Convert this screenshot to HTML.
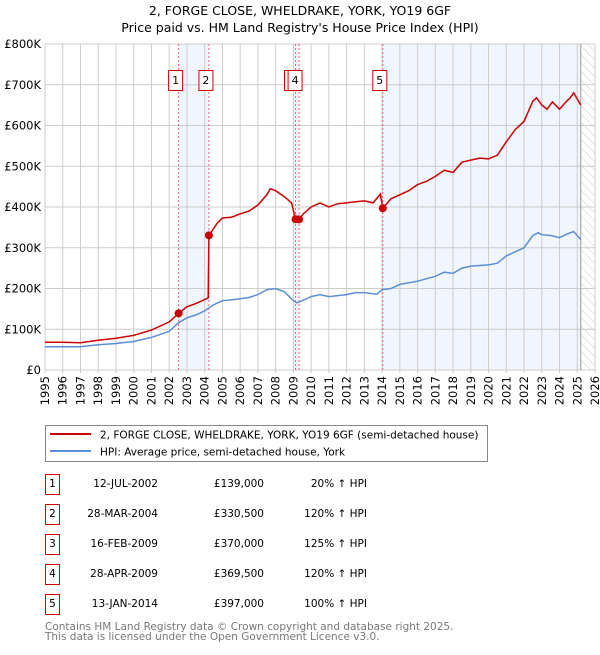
<!DOCTYPE html>
<html><head><meta charset="utf-8"><style>
body{margin:0;background:#fff;font-family:"Liberation Sans","DejaVu Sans",sans-serif;}
svg text{font-family:"DejaVu Sans","Liberation Sans",sans-serif;}
</style></head><body>
<svg id="chart" width="600" height="650" viewBox="0 0 600 650" xmlns="http://www.w3.org/2000/svg">
<defs><pattern id="hatch" width="6" height="6" patternUnits="userSpaceOnUse" patternTransform="rotate(-45)"><line x1="0" y1="0" x2="0" y2="6" stroke="#ccc" stroke-width="1"/></pattern></defs>
<text x="300" y="15" text-anchor="middle" font-size="12.5" fill="#000">2, FORGE CLOSE, WHELDRAKE, YORK, YO19 6GF</text>
<text x="300" y="32" text-anchor="middle" font-size="12.5" fill="#000">Price paid vs. HM Land Registry's House Price Index (HPI)</text>
<g id="bands"></g><g id="grid"></g><g id="vlines"></g><g id="series"></g><g id="markers"></g><g id="axes"></g>
<rect x="45.5" y="425.5" width="442" height="36" fill="#fff" stroke="#888"/>
<line x1="50" y1="434" x2="91" y2="434" stroke="#cc0000" stroke-width="2"/>
<text x="100" y="438.5" font-size="10.5">2, FORGE CLOSE, WHELDRAKE, YORK, YO19 6GF (semi-detached house)</text>
<line x1="50" y1="451" x2="91" y2="451" stroke="#5b8fd4" stroke-width="2"/>
<text x="100" y="455.5" font-size="10.5">HPI: Average price, semi-detached house, York</text>
<g id="table"></g>
<text x="45" y="630" font-size="10.5" fill="#777">Contains HM Land Registry data © Crown copyright and database right 2025.</text>
<text x="45" y="640" font-size="10.5" fill="#777">This data is licensed under the Open Government Licence v3.0.</text>
</svg>
<script>
const hpiYears=[1995,1996,1997,1998,1999,2000,2001,2002,2002.5,2003,2003.5,2004,2004.5,2005,2005.5,2006,2006.5,2007,2007.5,2008,2008.5,2009,2009.2,2009.5,2010,2010.5,2011,2012,2012.5,2013,2013.7,2014,2014.5,2015,2016,2017,2017.5,2018,2018.5,2019,2020,2020.5,2021,2021.5,2022,2022.5,2022.8,2023,2023.5,2024,2024.5,2024.8,2025.2];
const hpiValues=[57,57,57,62,65,70,80,95,115,128,135,145,160,170,172,175,178,185,197,200,192,170,165,170,180,185,180,185,190,190,186,197,200,210,218,230,240,237,250,255,258,262,280,290,300,330,337,332,330,325,335,340,320];
const propYears=[1995,1996,1997,1998,1999,2000,2001,2002,2002.53,2003,2003.5,2004.2,2004.24,2004.7,2005,2005.5,2006,2006.5,2007,2007.5,2007.7,2008,2008.5,2008.9,2009.12,2009.32,2009.6,2010,2010.5,2011,2011.5,2012,2012.5,2013,2013.5,2013.9,2014.04,2014.5,2015,2015.5,2016,2016.5,2017,2017.5,2018,2018.5,2019,2019.5,2020,2020.5,2021,2021.5,2022,2022.5,2022.7,2023,2023.3,2023.6,2024,2024.3,2024.6,2024.8,2025.2];
const propValues=[68,68,67,73,78,85,98,118,139,155,163,177,330.5,360,373,375,383,390,405,430,445,440,425,410,370,369.5,385,400,410,400,408,410,413,415,410,432,397,420,430,440,455,463,475,490,485,510,515,520,518,527,560,590,610,660,668,650,640,658,640,655,668,680,650];
const saleLabels=["1","2","3","4","5"];
const saleYears=[2002.53,2004.24,2009.12,2009.32,2014.04];
const salePrices=[139,330.5,370,369.5,397];
const saleDates=["12-JUL-2002","28-MAR-2004","16-FEB-2009","28-APR-2009","13-JAN-2014"];
const salePriceText=["£139,000","£330,500","£370,000","£369,500","£397,000"];
const saleHpiText=["20% ↑ HPI","120% ↑ HPI","125% ↑ HPI","120% ↑ HPI","100% ↑ HPI"];
const yTicks=[0,100,200,300,400,500,600,700,800];
const yTickLabels=["£0","£100K","£200K","£300K","£400K","£500K","£600K","£700K","£800K"];
const xTicks=[1995,1996,1997,1998,1999,2000,2001,2002,2003,2004,2005,2006,2007,2008,2009,2010,2011,2012,2013,2014,2015,2016,2017,2018,2019,2020,2021,2022,2023,2024,2025,2026];
const NS="http://www.w3.org/2000/svg";
const X0=45,X1=595,Y0=370,Y1=44;
const x=v=>X0+(v-1995)/(2026-1995)*(X1-X0);
const y=v=>Y0-v/800*(Y0-Y1);
function mk(tag,attrs,parent){const e=document.createElementNS(NS,tag);for(const k in attrs)e.setAttribute(k,attrs[k]);document.getElementById(parent).appendChild(e);return e;}
let b=mk('rect',{x:x(saleYears[0]),y:Y1,width:x(saleYears[1])-x(saleYears[0]),height:Y0-Y1,fill:'#eef3fc',opacity:0.8},'bands');

b=mk('rect',{x:x(saleYears[2]),y:Y1,width:x(saleYears[3])-x(saleYears[2]),height:Y0-Y1,fill:'#eef3fc',opacity:0.8},'bands');

b=mk('rect',{x:x(saleYears[4]),y:Y1,width:x(2025.2)-x(saleYears[4]),height:Y0-Y1,fill:'#eef3fc',opacity:0.8},'bands');

b=mk('rect',{x:x(2025.2),y:Y1,width:X1-x(2025.2),height:Y0-Y1,fill:'url(#hatch)'},'bands');

yTicks.forEach((t,i)=>{const l=mk('line',{x1:X0,x2:X1,y1:y(t),y2:y(t),stroke:'#ccc'},'grid');

const tx=mk('text',{x:X0-4,y:y(t)+4,'text-anchor':'end','font-size':'11.5'},'axes');tx.textContent=yTickLabels[i];
});
xTicks.forEach(t=>{const l=mk('line',{x1:x(t),x2:x(t),y1:Y1,y2:Y0+3,stroke:'#ccc'},'grid');

const tx=mk('text',{x:0,y:0,'text-anchor':'end','font-size':'11.5',transform:`translate(${x(t)+4},${Y0+6}) rotate(-90)`},'axes');tx.textContent=t;
});
let ln=mk('line',{x1:x(2025.2),x2:x(2025.2),y1:Y1,y2:Y0,stroke:'#999'},'grid');

saleYears.forEach((s,i)=>{const l=mk('line',{x1:x(s),x2:x(s),y1:Y1,y2:Y0,stroke:'#f06070','stroke-dasharray':'2,2'},'vlines');
});
const path=(xs,vs)=>xs.map((v,i)=>(i?'L':'M')+x(v).toFixed(1)+','+y(vs[i]).toFixed(1)).join('');
let p=mk('path',{d:path(hpiYears,hpiValues),fill:'none',stroke:'#5b8fd4','stroke-width':1.5},'series');

p=mk('path',{d:path(propYears,propValues),fill:'none',stroke:'#cc0000','stroke-width':1.5},'series');

const boxOff=[-10,-10,-11,-11,-10];
saleYears.forEach((s,i)=>{const c=mk('circle',{cx:x(s),cy:y(salePrices[i]),r:4,fill:'#cc0000'},'markers');

const bx=x(s)+boxOff[i];
const r=mk('rect',{x:bx,y:70.5,width:14,height:20,fill:'#fff',stroke:'#cc0000'},'markers');

const t=mk('text',{x:bx+7,y:84,'text-anchor':'middle','font-size':'11'},'markers');t.textContent=saleLabels[i];
});
saleLabels.forEach((s,i)=>{const cy=483+i*30;
const r=mk('rect',{x:45.5,y:cy-8.5,width:14,height:20,fill:'#fff',stroke:'#cc0000'},'table');

const vals=[[52.5,s,'middle'],[158,saleDates[i],'end'],[264,salePriceText[i],'end'],[367,saleHpiText[i],'end']];
const names=['table-row-number','table-row-date','table-row-price','table-row-hpi-change'];
vals.forEach((v,j)=>{const t=mk('text',{x:v[0],y:cy+4,'text-anchor':v[2],'font-size':'10.5'},'table');t.textContent=v[1];
});});
</script>
</body></html>
